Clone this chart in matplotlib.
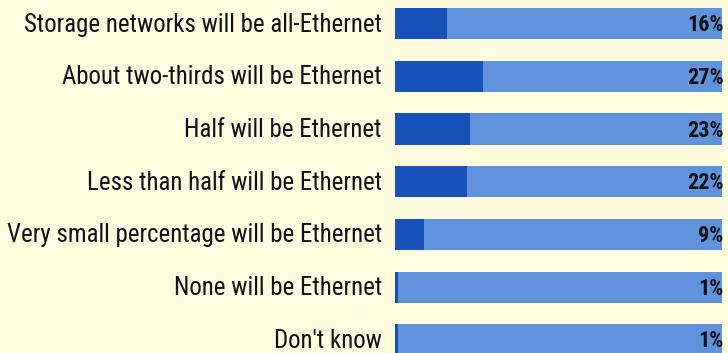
import matplotlib
matplotlib.use("Agg")
import matplotlib.pyplot as plt

categories = [
    "Storage networks will be all-Ethernet",
    "About two-thirds will be Ethernet",
    "Half will be Ethernet",
    "Less than half will be Ethernet",
    "Very small percentage will be Ethernet",
    "None will be Ethernet",
    "Don't know",
]
percent_values = [16, 27, 23, 22, 9, 1, 1]
value_labels = ["16%", "27%", "23%", "22%", "9%", "1%", "1%"]

label_font = ["Roboto Condensed", "DejaVu Sans"]

bg = "#FEFBDF"
track_color = "#5F93DC"
bar_color = "#1650B8"
text_color = "#111118"

fig = plt.figure(figsize=(7.28, 3.53), dpi=100, facecolor=bg)
ax = fig.add_axes([395 / 728, 0, 327 / 728, 1])
ax.set_facecolor(bg)

positions = list(range(len(categories)))
bar_h = 0.59
ax.barh(positions, [100] * len(categories), height=bar_h, color=track_color, linewidth=0)
ax.barh(positions, percent_values, height=bar_h, color=bar_color, linewidth=0)

for pos, cat, lab in zip(positions, categories, value_labels):
    ax.text(-0.04, pos + 0.02, cat, transform=ax.get_yaxis_transform(), ha="right", va="center",
            fontsize=17.9, family=label_font, color=text_color)
    ax.text(100.5, pos + 0.03, lab, ha="right", va="center", fontsize=16,
            family=label_font, fontweight="bold", color=text_color)

ax.set_xlim(0, 100)
# row 0 centred near the top, the last row running past the bottom edge
ax.set_ylim(6.25, -0.446)
ax.axis("off")

fig.savefig("out.png", dpi=100, facecolor=bg)
